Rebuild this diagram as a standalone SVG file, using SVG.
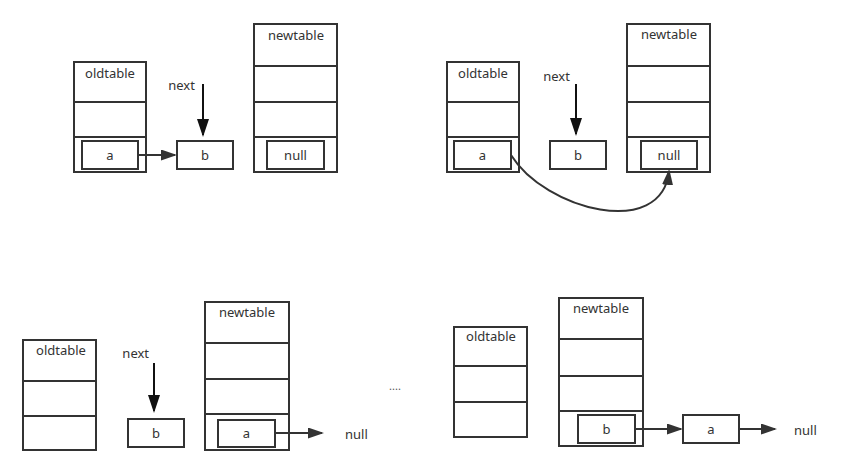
<svg xmlns="http://www.w3.org/2000/svg" width="859" height="476" viewBox="0 0 859 476">
<defs>
<marker id="ah" markerUnits="userSpaceOnUse" markerWidth="16" markerHeight="11" refX="14" refY="5.5" orient="auto" viewBox="0 0 16 11">
<path d="M0,0 L16,5.5 L0,11 z" fill="#333"/>
</marker>
<marker id="ahv" markerUnits="userSpaceOnUse" markerWidth="18" markerHeight="12" refX="16" refY="6" orient="auto" viewBox="0 0 18 12">
<path d="M0,0 L18,6 L0,12 z" fill="#111"/>
</marker>
</defs>
<style>
rect{fill:#fff;stroke:#333;stroke-width:2}
.d{stroke:#333;stroke-width:2}
text{font-family:"Noto Sans","Liberation Sans",sans-serif;font-size:13px;fill:#333;text-anchor:middle}
.l{text-anchor:start}
.c{fill:none;stroke:#333;stroke-width:2;marker-end:url(#ah)}
.n{fill:none;stroke:#111;stroke-width:2;marker-end:url(#ahv)}
</style>
<rect x="0" y="0" width="859" height="476" style="stroke:none"/>

<!-- Panel 1 -->
<g id="p1-oldtable">
<rect x="74" y="62" width="72" height="110"/>
<line class="d" x1="74" y1="102" x2="146" y2="102"/>
<line class="d" x1="74" y1="137" x2="146" y2="137"/>
<text x="110" y="78">oldtable</text>
</g>
<g id="p1-a"><rect x="82" y="141" width="56" height="28"/><text x="110" y="160">a</text></g>
<g id="p1-b"><rect x="177" y="141" width="56" height="28"/><text x="205" y="160">b</text></g>
<g id="p1-next"><text x="181.5" y="90">next</text></g>
<g id="p1-newtable">
<rect x="254" y="24" width="83" height="148"/>
<line class="d" x1="254" y1="66" x2="337" y2="66"/>
<line class="d" x1="254" y1="102" x2="337" y2="102"/>
<line class="d" x1="254" y1="137" x2="337" y2="137"/>
<text x="296" y="40">newtable</text>
</g>
<g id="p1-null"><rect x="267" y="141" width="57" height="28"/><text x="295.5" y="160">null</text></g>

<!-- Panel 2 -->
<g id="p2-oldtable">
<rect x="447" y="62" width="72" height="110"/>
<line class="d" x1="447" y1="102" x2="519" y2="102"/>
<line class="d" x1="447" y1="137" x2="519" y2="137"/>
<text x="483" y="78">oldtable</text>
</g>
<g id="p2-a"><rect x="454" y="141" width="57" height="28"/><text x="482.5" y="160">a</text></g>
<g id="p2-b"><rect x="550" y="141" width="56" height="28"/><text x="578" y="160">b</text></g>
<g id="p2-next"><text x="556.5" y="81">next</text></g>
<g id="p2-newtable">
<rect x="627" y="24" width="83" height="148"/>
<line class="d" x1="627" y1="66" x2="710" y2="66"/>
<line class="d" x1="627" y1="102" x2="710" y2="102"/>
<line class="d" x1="627" y1="137" x2="710" y2="137"/>
<text x="669" y="39">newtable</text>
</g>
<g id="p2-null"><rect x="641" y="141" width="56" height="28"/><text x="669" y="160">null</text></g>

<!-- Panel 3 -->
<g id="p3-oldtable">
<rect x="23" y="340" width="73" height="110"/>
<line class="d" x1="23" y1="381" x2="96" y2="381"/>
<line class="d" x1="23" y1="416" x2="96" y2="416"/>
<text x="61" y="355">oldtable</text>
</g>
<g id="p3-next"><text x="135.7" y="358">next</text></g>
<g id="p3-b"><rect x="128" y="419" width="56" height="28"/><text x="156" y="438">b</text></g>
<g id="p3-newtable">
<rect x="205" y="302" width="84" height="148"/>
<line class="d" x1="205" y1="343" x2="289" y2="343"/>
<line class="d" x1="205" y1="379" x2="289" y2="379"/>
<line class="d" x1="205" y1="414" x2="289" y2="414"/>
<text x="247" y="317">newtable</text>
</g>
<g id="p3-a"><rect x="218" y="420" width="57" height="27"/><text x="246.5" y="438">a</text></g>
<g id="p3-nulltext"><text class="l" x="345" y="439">null</text></g>

<g id="dots"><text x="395" y="390" style="font-size:11px;fill:#555">....</text></g>

<!-- Panel 4 -->
<g id="p4-oldtable">
<rect x="454" y="327" width="73" height="110"/>
<line class="d" x1="454" y1="366" x2="527" y2="366"/>
<line class="d" x1="454" y1="402" x2="527" y2="402"/>
<text x="491" y="341">oldtable</text>
</g>
<g id="p4-newtable">
<rect x="559" y="298" width="84" height="148"/>
<line class="d" x1="559" y1="339" x2="643" y2="339"/>
<line class="d" x1="559" y1="376" x2="643" y2="376"/>
<line class="d" x1="559" y1="411" x2="643" y2="411"/>
<text x="601" y="313">newtable</text>
</g>
<g id="p4-b"><rect x="578" y="415" width="57" height="28"/><text x="606.5" y="434">b</text></g>
<g id="p4-a"><rect x="683" y="415" width="56" height="28"/><text x="711" y="434">a</text></g>
<g id="p4-nulltext"><text class="l" x="794" y="435">null</text></g>

<g id="connectors">
<path class="c" d="M138,155 L175,155"/>
<path class="n" d="M203,84 L203,135"/>
<path class="n" d="M576,84 L576,134"/>
<path class="c" d="M511,155 C545,210 662,240 669,171"/>
<path class="n" d="M154,363 L154,411"/>
<path class="c" d="M275,433 L322,433"/>
<path class="c" d="M635,429 L681,429"/>
<path class="c" d="M739,429 L775,429"/>
</g>
</svg>
